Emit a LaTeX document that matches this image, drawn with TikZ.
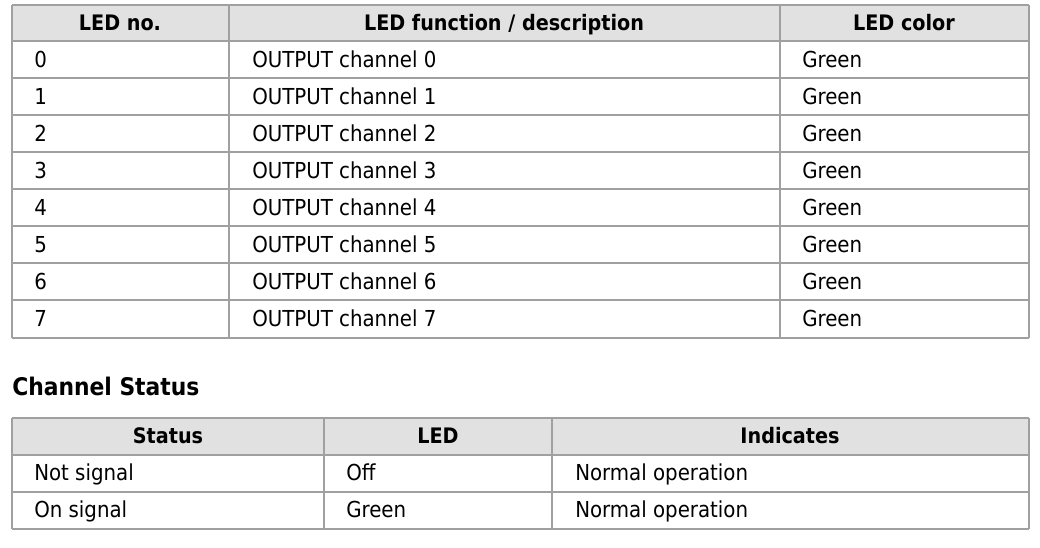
\documentclass[tikz,border=0pt]{standalone}
\usepackage{fontspec}
\setmainfont{DejaVu Sans Condensed}
\definecolor{headgray}{HTML}{E1E1E1}
\definecolor{rulegray}{HTML}{A0A0A0}
\begin{document}
\begin{tikzpicture}[x=0.75pt,y=-0.75pt]
\tikzset{every node/.style={font=\fontsize{16.5}{19}\selectfont},
cell/.style={anchor=base west,inner sep=0pt},
head/.style={anchor=base,inner sep=0pt,font=\fontsize{16}{19}\selectfont\bfseries},
grid/.style={draw=rulegray,line width=0.8pt}}
\useasboundingbox (0,0) rectangle (1040,547);

% LED table
\fill[headgray] (12,5) rectangle (1029,41);
\foreach \y in {5,41,78,115,152,189,226,263,300,338}
  \draw[grid] (12,\y) -- (1029,\y);
\foreach \x in {12,229,780,1029}
  \draw[grid] (\x,5) -- (\x,338);
\node[head] (hno) at (120,30) {LED no.};
\node[head] (hfun) at (504,30) {LED function / description};
\node[head] (hcol) at (904,30) {LED color};
\foreach \i in {0,...,7}{
  \pgfmathsetmacro{\yy}{67+37.1*\i}
  \node[cell] (no\i) at (34,\yy) {\i};
  \node[cell] (fun\i) at (252,\yy) {OUTPUT channel \i};
  \node[cell] (col\i) at (802,\yy) {Green};
}

% Channel status
\node[cell,font=\fontsize{18.2}{21}\selectfont\bfseries] (title) at (12,395) {Channel Status};
\fill[headgray] (12,418) rectangle (1029,455);
\foreach \y in {418,455,492,529}
  \draw[grid] (12,\y) -- (1029,\y);
\foreach \x in {12,324,552,1029}
  \draw[grid] (\x,418) -- (\x,529);
\node[head] (hst) at (168,443) {Status};
\node[head] (hled) at (438,443) {LED};
\node[head] (hind) at (790,443) {Indicates};
\node[cell] (st1) at (34,480) {Not signal};
\node[cell] (led1) at (346,480) {Off};
\node[cell] (ind1) at (575,480) {Normal operation};
\node[cell] (st2) at (34,517) {On signal};
\node[cell] (led2) at (346,517) {Green};
\node[cell] (ind2) at (575,517) {Normal operation};
\end{tikzpicture}
\end{document}
